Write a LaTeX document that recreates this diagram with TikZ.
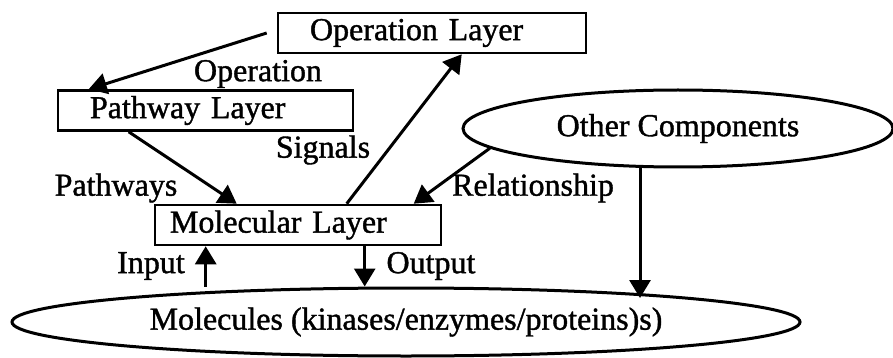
\documentclass[tikz,border=0pt]{standalone}
\usepackage{fontspec}
\setmainfont{Liberation Serif}[AutoFakeBold=1.2]
\usetikzlibrary{arrows.meta, shapes.geometric}

\begin{document}
\begin{tikzpicture}[x=1pt,y=-1pt,font=\fontsize{32}{38}\selectfont\bfseries]
\tikzstyle{layer}=[rectangle,draw,line width=2.6pt,align=left,inner ysep=0pt,minimum height=40pt]
\tikzstyle{blob}=[ellipse,draw,line width=3pt,inner sep=0pt]
\tikzstyle{arr}=[-{Triangle[length=18pt,width=21pt]},line width=3pt]
\useasboundingbox (0,0) rectangle (893,358);

\node[layer,inner xsep=32pt,text width=244pt] (oper) at (432,33){Operation Layer};
\node[layer,inner xsep=32pt,text width=231pt] (pathway) at (205.5,110.5){Pathway Layer};
\node[layer,inner xsep=15pt,text width=256pt] (molec) at (298,225){Molecular Layer};
\node[blob,minimum width=430pt,minimum height=77pt] (other) at (678,128.5){Other Components};
\node[blob,minimum width=788pt,minimum height=68pt] (mol) at (406,322){Molecules (kinases/enzymes/proteins)s)};

\node (operation_lbl) at (258,74){Operation};
\node (signals_lbl) at (323,150){Signals};
\node (pathways_lbl) at (116,188){Pathways};
\node (relation_lbl) at (533,188){Relationship};
\node (input_lbl) at (151,266){Input};
\node (output_lbl) at (431,266){Output};

\draw[arr] ([xshift=-10pt]oper.west) -- ([xshift=32pt]pathway.north west);
\draw[arr] ([xshift=72pt]pathway.south west) -- ([xshift=83pt]molec.north west);
\draw[arr] ([xshift=193pt]molec.north west) -- ([xshift=185pt]oper.south west);
\draw[arr] (other.186) -- ([xshift=260pt]molec.north west);

\coordinate (hit) at (640,298);
\draw[arr] ([xshift=-38pt]other.south) -- (hit);

\draw[arr] ([xshift=52pt]molec.south west |- mol.north) -- ([xshift=52pt]molec.south west);
\draw[arr] ([xshift=211pt]molec.south west) -- ([xshift=211pt]molec.south west |- mol.north);

\end{tikzpicture}
\end{document}
